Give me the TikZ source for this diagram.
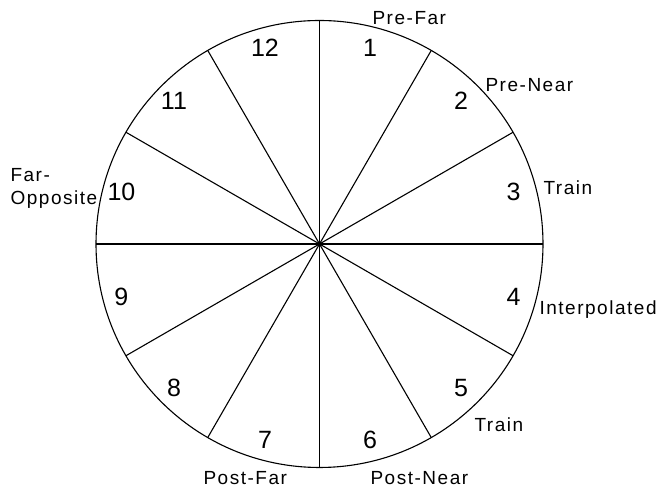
\documentclass[tikz,border=0pt]{standalone}
\usepackage{fontspec}
\setmainfont{Liberation Sans}
\newfontfamily\labelfont{Liberation Sans}[LetterSpace=8]
\newfontfamily\numfont{Liberation Sans}
\usepackage{tikz}
\usetikzlibrary{calc, positioning}

\begin{document}
\begin{tikzpicture}[x=1pt, y=1pt, line width=1.1pt,
    so/.style={inner sep=0pt, font=\numfont\fontsize{25}{29}\selectfont},
    nhan/.style={inner sep=0pt, anchor=base west, font=\labelfont\fontsize{19}{23}\selectfont}]
    \useasboundingbox (0,0) rectangle (657,489);
    % Tâm và đường tròn
    \coordinate (O) at (319.5,245);
    \draw (O) circle (223.5);
    
    % Các bán kính cách nhau 30 độ
    \foreach \g in {0,30,...,330}
        \draw (O) -- ($(O)+(\g:223.5)$);
    
    % Đánh số các ô từ 1 đến 12
    \foreach \k in {1,...,12}
        \node[so] (n\k) at ($(O)+({75-30*(\k-1)}:203)+(-2,0)$) {\k};
    
    % Nhãn bên ngoài đường tròn
    \node[nhan] (prefar) at (372,464) {Pre-Far};
    \node[nhan] (prenear) at (485,397) {Pre-Near};
    \node[nhan] (train1) at (543,294.5) {Train};
    \node[nhan] (interp) at (539,174) {Interpolated};
    \node[nhan] (train2) at (474,57) {Train};
    \node[nhan] (postfar) at (203,4) {Post-Far};
    \node[nhan] (postnear) at (370,4) {Post-Near};
    \node[nhan] (far) at (10,307) {Far-};
    \node[nhan] (opp) at (10,284) {Opposite};
\end{tikzpicture}
\end{document}
